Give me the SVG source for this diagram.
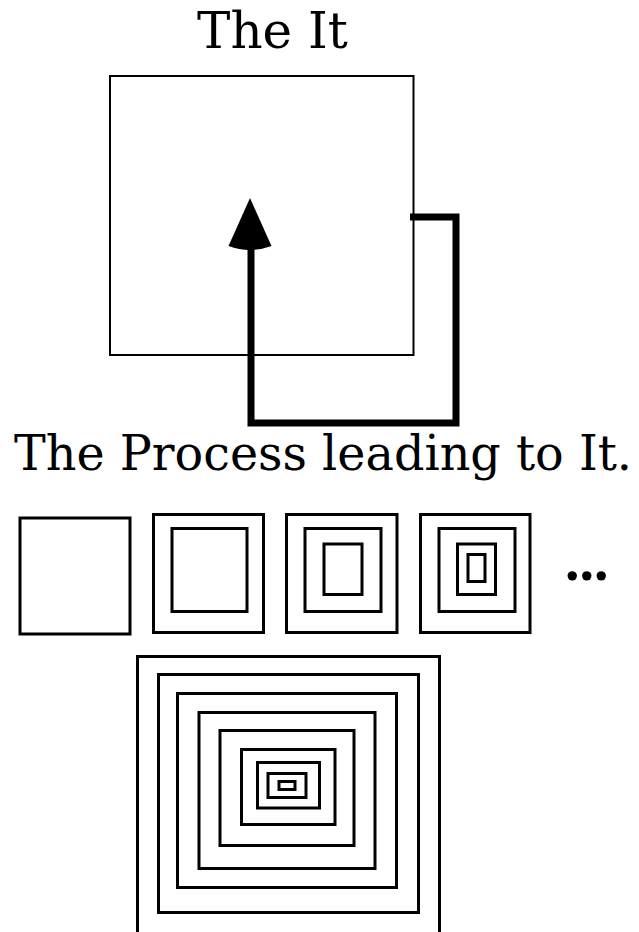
<svg xmlns="http://www.w3.org/2000/svg" width="639" height="932" viewBox="0 0 639 932">
<style>
.bg{fill:#fff}
.box{fill:none;stroke:#000;stroke-width:3}
.big{fill:none;stroke:#000;stroke-width:2}
.conn{fill:none;stroke:#000;stroke-width:7;stroke-linejoin:miter;stroke-linecap:butt}
.head{fill:#000}
.t{font-family:"DejaVu Serif",serif;fill:#000}
</style>
<rect class="bg" x="0" y="0" width="639" height="932"/>
<g id="title"><text class="t" x="272.5" y="48" font-size="50" text-anchor="middle">The It</text></g>
<g id="it-box"><rect class="big" x="110" y="76" width="303.5" height="279"/></g>
<g id="connectors">
<path class="conn" d="M410,217 H456 V423 H251 V246"/>
<path class="head" d="M250,198 L271.5,246 Q250,254 228.5,246 Z"/>
</g>
<g id="process-label"><text class="t" x="14" y="470" font-size="48" textLength="618" lengthAdjust="spacingAndGlyphs">The Process leading to It.</text></g>
<g id="step1"><rect class="box" x="20" y="518" width="110" height="116"/></g>
<g id="step2">
<rect class="box" x="153.5" y="514.5" width="110" height="118"/>
<rect class="box" x="172" y="528.5" width="75" height="83"/>
</g>
<g id="step3">
<rect class="box" x="286.5" y="514.5" width="110.5" height="118"/>
<rect class="box" x="305" y="528.5" width="76" height="83"/>
<rect class="box" x="324" y="544" width="38" height="50.5"/>
</g>
<g id="step4">
<rect class="box" x="420.5" y="514.5" width="109.5" height="118"/>
<rect class="box" x="439" y="528.5" width="76" height="83"/>
<rect class="box" x="457.5" y="544" width="38" height="50.5"/>
<rect class="box" x="468" y="554.5" width="17" height="27"/>
</g>
<g id="ellipsis"><text x="565" y="580" font-family="'Liberation Serif',serif" font-weight="bold" font-size="58">...</text></g>
<g id="nested">
<rect class="box" x="137.5" y="656.5" width="302" height="300"/>
<rect class="box" x="158.5" y="674.5" width="260" height="238"/>
<rect class="box" x="177.5" y="693.5" width="219" height="194"/>
<rect class="box" x="199" y="712.5" width="176" height="156"/>
<rect class="box" x="220" y="730.5" width="134" height="115"/>
<rect class="box" x="241.5" y="749.5" width="93.5" height="75"/>
<rect class="box" x="257.5" y="762.5" width="62" height="45.5"/>
<rect class="box" x="268" y="773.5" width="38" height="24"/>
<rect class="box" x="279" y="781.5" width="16" height="8"/>
</g>
</svg>
